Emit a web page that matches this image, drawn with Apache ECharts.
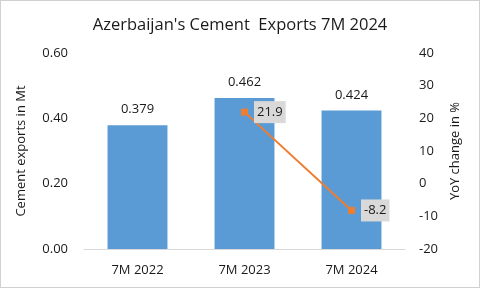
<!DOCTYPE html>
<html><head><meta charset="utf-8">
<script src="https://cdn.jsdelivr.net/npm/echarts@6/dist/echarts.min.js"></script>
<style>html,body{margin:0;padding:0;background:#fff}#c{width:478px;height:286px;border:1px solid #d0d0d0}</style>
</head><body><div id="c"></div>
<script>
const categories = ['7M 2022', '7M 2023', '7M 2024'];
const exportsMt = [0.379, 0.462, 0.424];
const yoyChange = [null, 21.9, -8.2];
const leftTicks = [0, 0.6, 0.2];
const rightTicks = [-20, 40, 10];
const font = 'Open Sans';
const chart = echarts.init(document.getElementById('c'));
chart.setOption({
  animation: false,
  title: {text: "Azerbaijan's Cement  Exports 7M 2024", left: 'center', top: 11,
    textStyle: {fontFamily: font, fontSize: 16.5, fontWeight: 'normal', color: '#1a1a1a'}},
  grid: {left: 83, right: 74, top: 52, bottom: 38},
  xAxis: {type: 'category', data: categories,
    axisLine: {lineStyle: {color: '#d9d9d9'}}, axisTick: {show: false},
    axisLabel: {fontFamily: font, fontSize: 13, color: '#1a1a1a', margin: 15}},
  yAxis: [
    {type: 'value', min: leftTicks[0], max: leftTicks[1], interval: leftTicks[2],
     name: 'Cement exports in Mt', nameLocation: 'middle', nameGap: 56, nameRotate: 90,
     nameTextStyle: {fontFamily: font, fontSize: 13, color: '#1a1a1a'},
     splitLine: {show: false},
     axisLabel: {fontFamily: font, fontSize: 13, color: '#1a1a1a', margin: 16, formatter: v => v.toFixed(2)}},
    {type: 'value', min: rightTicks[0], max: rightTicks[1], interval: rightTicks[2],
     name: 'YoY change in %', nameLocation: 'middle', nameGap: 44, nameRotate: 90,
     nameTextStyle: {fontFamily: font, fontSize: 13, color: '#1a1a1a'},
     splitLine: {show: false},
     axisLabel: {fontFamily: font, fontSize: 13, color: '#1a1a1a', margin: 14}}
  ],
  series: [
    {type: 'bar', data: exportsMt, barWidth: '56%', itemStyle: {color: '#5b9bd5'},
     label: {show: true, position: 'top', distance: 9, fontFamily: font, fontSize: 13, color: '#1a1a1a',
       formatter: p => p.value.toFixed(3)}},
    {type: 'line', yAxisIndex: 1, data: yoyChange, symbol: 'rect', symbolSize: 7,
     lineStyle: {color: '#ed7d31', width: 2}, itemStyle: {color: '#ed7d31'},
     label: {show: true, position: 'right', distance: 6, fontFamily: font, fontSize: 13, color: '#1a1a1a',
       backgroundColor: '#d9d9d9', padding: [5, 3, 4, 3], formatter: p => p.value.toFixed(1)}}
  ]
});
</script></body></html>
